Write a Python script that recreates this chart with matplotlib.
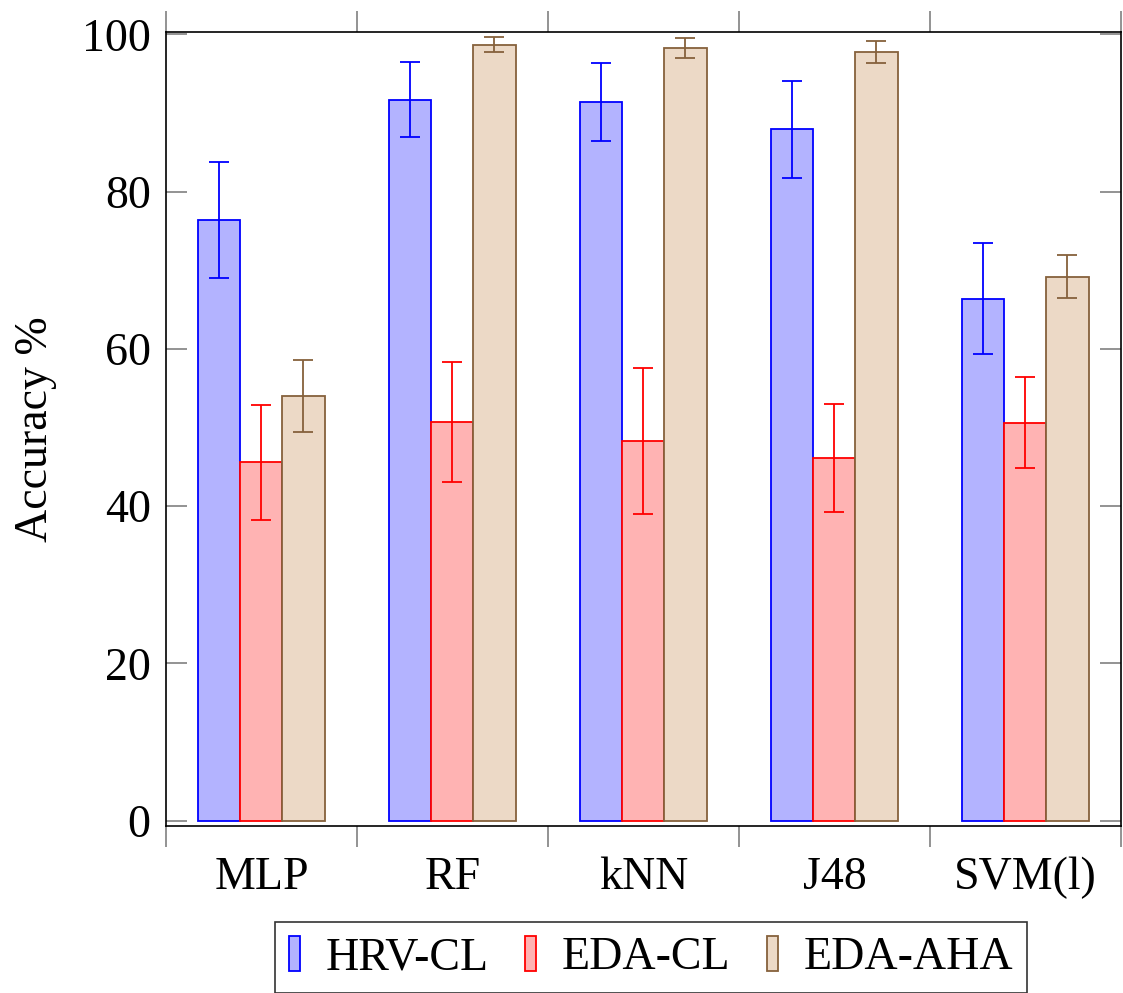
import numpy as np
import matplotlib
matplotlib.use("Agg")
import matplotlib.pyplot as plt
from matplotlib.ticker import FixedLocator, NullFormatter

plt.rcParams["font.family"] = ["Liberation Serif", "DejaVu Serif"]

classifiers = ["MLP", "RF", "kNN", "J48", "SVM(l)"]
series = ["HRV-CL", "EDA-CL", "EDA-AHA"]

hrv_cl = [76.4, 91.7, 91.4, 87.9, 66.4]
hrv_cl_err = [7.4, 4.75, 4.95, 6.2, 7.1]
eda_cl = [45.6, 50.7, 48.3, 46.1, 50.6]
eda_cl_err = [7.3, 7.6, 9.3, 6.85, 5.8]
eda_aha = [54.0, 98.7, 98.3, 97.7, 69.2]
eda_aha_err = [4.6, 0.9, 1.25, 1.4, 2.75]

fills = ["#b3b3ff", "#ffb3b3", "#ecd9c6"]
edges = ["#0000ff", "#ff0000", "#86613c"]
tick_gray = "#808080"
fs = 33

fig = plt.figure(figsize=(11.23, 9.93), dpi=100)
ax = fig.add_axes([0.1478, 0.1682, 0.8504, 0.7996])

x = np.arange(len(classifiers))
w = 0.22
values = [hrv_cl, eda_cl, eda_aha]
errors = [hrv_cl_err, eda_cl_err, eda_aha_err]
for i, (vals, errs) in enumerate(zip(values, errors)):
    pos = x + (i - 1) * w
    ax.bar(pos, vals, width=w, color=fills[i], edgecolor=edges[i],
           linewidth=1.3, label=series[i], zorder=2)
    ax.errorbar(pos, vals, yerr=errs, fmt="none", ecolor=edges[i],
                elinewidth=1.3, capsize=7.2, capthick=1.3, zorder=3)

ax.set_xlim(-0.5, 4.5)
ax.set_ylim(-0.67, 100.3)

# group separators as major ticks, labels on minor ticks
ax.xaxis.set_major_locator(FixedLocator(np.arange(-0.5, 5.0, 1.0)))
ax.xaxis.set_major_formatter(NullFormatter())
ax.xaxis.set_minor_locator(FixedLocator(x))
ax.set_xticklabels(classifiers, minor=True)
ax.tick_params(axis="x", which="major", direction="out", length=15, width=1.2,
               color=tick_gray, top=True, bottom=True)
ax.tick_params(axis="x", which="minor", length=0, pad=22, labelsize=fs)

ax.set_yticks([0, 20, 40, 60, 80, 100])
ax.tick_params(axis="y", direction="in", length=15, width=1.2, color=tick_gray,
               left=True, right=True, labelsize=fs, pad=11)

ax.set_ylabel("Accuracy %", fontsize=fs, labelpad=18)

for sp in ax.spines.values():
    sp.set_linewidth(1.2)
    sp.set_color("black")

leg = ax.legend(loc="upper center", bbox_to_anchor=(0.58, 0.0715),
                bbox_transform=fig.transFigure, ncol=3, fontsize=fs,
                frameon=True, fancybox=False, edgecolor="black",
                borderaxespad=0, handlelength=0.23, handleheight=0.8,
                handletextpad=0.57, columnspacing=0.8, borderpad=0.3)
leg.get_frame().set_linewidth(1.2)

fig.savefig("out.png", dpi=100)
